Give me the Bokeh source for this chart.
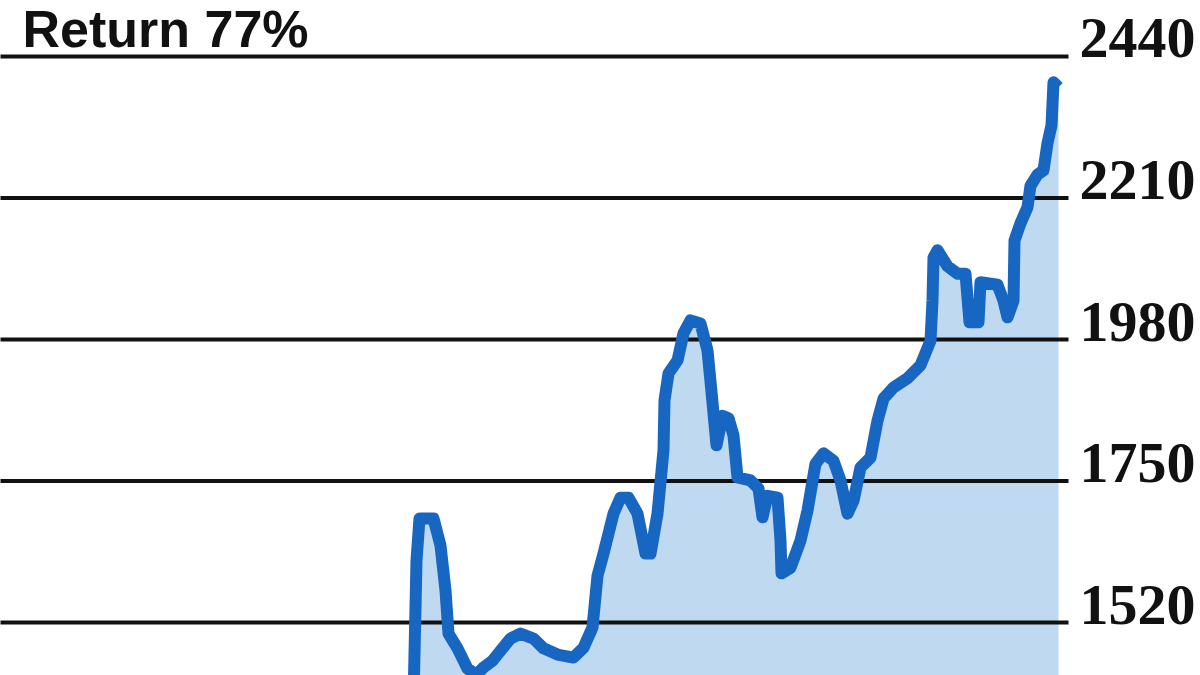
from bokeh.plotting import figure
from bokeh.models import ColumnDataSource, Range1d
from bokeh.core.properties import value
from bokeh.embed import file_html
from bokeh.resources import INLINE

# ---- data ----
title_text = "Return 77%"
day = [-2, 1, 4, 18, 25, 30, 33, 42, 52, 61, 68, 77, 85, 95, 105, 118, 128, 142,
       158, 168, 177, 182, 188, 198, 205, 213, 222, 230, 235, 242, 248, 249, 253,
       262, 268, 275, 285, 292, 296, 301, 307, 313, 318, 322, 335, 343, 347, 352,
       362, 365, 366, 375, 385, 392, 400, 408, 418, 425, 432, 438, 445, 455, 462,
       468, 478, 492, 505, 515, 517, 518, 522, 532, 542, 550, 554, 563, 565, 582,
       588, 592, 598, 599, 605, 612, 615, 622, 628, 632, 636, 638, 643]
index_value = [1393, 1621, 1689, 1689, 1645, 1572, 1502, 1478, 1445, 1435, 1447,
               1458, 1474, 1494, 1502, 1494, 1478, 1468, 1463, 1479, 1512, 1596,
               1632, 1697, 1723, 1723, 1697, 1632, 1632, 1697, 1800, 1881, 1925,
               1946, 1990, 2011, 2006, 1962, 1895, 1808, 1856, 1852, 1824, 1756,
               1751, 1738, 1691, 1726, 1723, 1653, 1600, 1609, 1653, 1702, 1778,
               1795, 1783, 1751, 1697, 1718, 1772, 1788, 1848, 1884, 1902, 1917,
               1938, 1978, 2043, 2113, 2125, 2099, 2087, 2087, 2008, 2008, 2073,
               2069, 2043, 2016, 2043, 2141, 2169, 2195, 2230, 2248, 2255, 2299,
               2328, 2398, 2390]
tick_values = [2440, 2210, 1980, 1750, 1520]
tick_labels = ["2440", "2210", "1980", "1750", "1520"]

# ---- figure ----
W, H = 1200, 675
p = figure(width=W, height=H, output_backend="svg", toolbar_location=None,
           x_axis_type=None, y_axis_type=None, min_border=0,
           x_range=Range1d(-415, 785), y_range=Range1d(1433.9, 2531.0))
p.outline_line_color = None
p.background_fill_color = "white"
p.border_fill_color = "white"
p.xgrid.visible = False
p.ygrid.visible = False

src = ColumnDataSource(dict(day=day, v=index_value, base=[1300] * len(day)))

# area under the line
p.varea(x="day", y1="base", y2="v", source=src, fill_color="#bfd9f1", fill_alpha=1.0)

# horizontal grid lines
n = len(tick_values)
grid_src = ColumnDataSource(dict(x0=[-420] * n, x1=[653] * n,
                                 y=tick_values, lab=tick_labels, lx=[664] * n))
p.segment(x0="x0", y0="y", x1="x1", y1="y", source=grid_src,
          line_color="#111111", line_width=4)

# index line
p.line(x="day", y="v", source=src, line_color="#1766c2", line_width=12,
       line_join="round")

# right-side tick labels (sit on their grid line)
p.text(x="lx", y="y", text="lab", source=grid_src,
       text_font=value("Liberation Serif"), text_font_style="bold",
       text_font_size="58px", text_color="#111111",
       text_baseline="alphabetic", text_align="left", y_offset=-18)

# title
p.text(x=[-393], y=[2459], text=[title_text],
       text_font=value("Liberation Sans"), text_font_style="bold",
       text_font_size="52px", text_color="#111111",
       text_baseline="alphabetic", text_align="left", y_offset=-16)

open("out.html", "w").write(file_html(p, INLINE))
